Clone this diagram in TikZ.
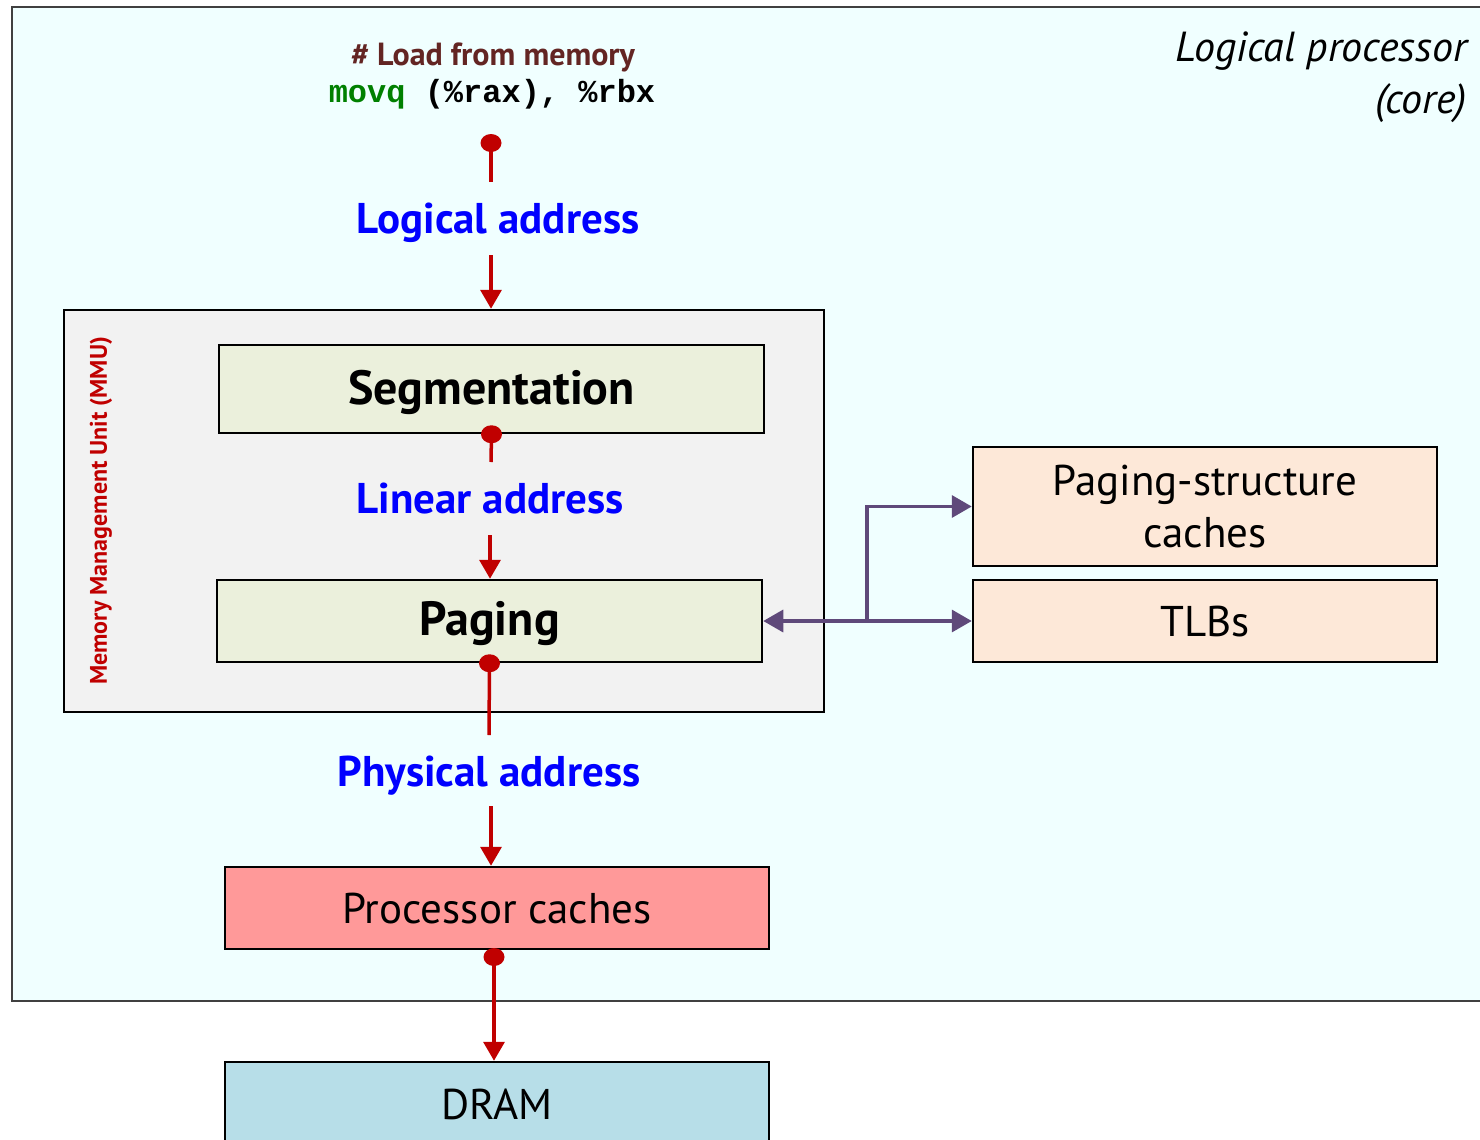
\documentclass[tikz,border=0pt]{standalone}
\usepackage{fontspec}
\setmainfont{PT Sans}
\newfontfamily\codefont{Liberation Mono}
\usetikzlibrary{arrows.meta}
\definecolor{corefill}{HTML}{F0FFFF}
\definecolor{mmufill}{HTML}{F2F2F2}
\definecolor{stagefill}{HTML}{EBF0DC}
\definecolor{cachefill}{HTML}{FDE8D8}
\definecolor{pcfill}{HTML}{FF9999}
\definecolor{dramfill}{HTML}{B7DEE8}
\definecolor{arrred}{HTML}{C00000}
\definecolor{arrpurple}{HTML}{5F497A}
\definecolor{addrblue}{HTML}{0000FF}
\definecolor{commentred}{HTML}{632523}
\definecolor{codegreen}{HTML}{008000}
\definecolor{coregray}{HTML}{404040}
\tikzset{
  boxstyle/.style={draw=black, line width=2.5pt, rectangle, inner sep=0pt},
  bigbold/.style={font=\fontsize{48}{54}\selectfont\bfseries},
  regtext/.style={font=\fontsize{43}{52}\selectfont},
  addrlabel/.style={font=\fontsize{43}{48}\selectfont\bfseries, text=addrblue, inner sep=0pt, anchor=base},
  redline/.style={draw=arrred, line width=3.5pt},
  redarrow/.style={redline, -{Triangle[length=19pt,width=21pt]}},
  purparrow/.style={draw=arrpurple, line width=3.5pt},
  reddot/.style={fill=arrred},
}
\begin{document}
\begin{tikzpicture}[x=1pt,y=-1pt]
\useasboundingbox (0,0) rectangle (1480,1140);
% core
\node[draw=coregray, line width=1.5pt, fill=corefill, minimum width=1488pt, minimum height=994pt, inner sep=0pt] (core) at (756,504) {};
\node[anchor=base east, font=\fontsize{42}{52}\selectfont\itshape, inner sep=0pt] (coretitle) at (1467,62) {Logical processor};
\node[anchor=base east, font=\fontsize{42}{52}\selectfont\itshape, inner sep=0pt] (coresub) at (1467,113) {(core)};
% code
\node[font=\fontsize{32}{36}\selectfont\bfseries, text=commentred, inner sep=0pt] (comment) at (493,57) {\# Load from memory};
\node[font=\fontsize{32}{36}\selectfont\codefont\bfseries, inner sep=0pt] (code) at (492,94) {\textcolor{codegreen}{movq} (\%rax), \%rbx};
% MMU
\node[boxstyle, fill=mmufill, minimum width=760pt, minimum height=402pt] (mmu) at (444,511) {};
\node[rotate=90, font=\fontsize{24}{28}\selectfont\bfseries, text=arrred, inner sep=0pt] (mmulabel) at (101,511) {Memory Management Unit (MMU)};
\node[boxstyle, fill=stagefill, minimum width=545pt, minimum height=88pt, bigbold, text height=35pt, text depth=4pt] (seg) at (491.5,389) {Segmentation};
\node[boxstyle, fill=stagefill, minimum width=545pt, minimum height=82pt, bigbold, text height=35pt, text depth=7pt] (pag) at (489.5,621) {Paging};
% caches
\node[boxstyle, fill=cachefill, minimum width=464pt, minimum height=119pt, regtext, align=center] (psc) at (1205,506.5) {Paging-structure\\caches};
\node[boxstyle, fill=cachefill, minimum width=464pt, minimum height=82pt, regtext, text height=31pt, text depth=0pt] (tlb) at (1205,621) {TLBs};
\node[boxstyle, fill=pcfill, minimum width=544pt, minimum height=82pt, regtext, text height=31pt, text depth=1pt] (pc) at (497,908) {Processor caches};
\node[boxstyle, fill=dramfill, minimum width=544pt, minimum height=84pt, regtext, text height=31pt, text depth=0pt] (dram) at (497,1104) {DRAM};
% address labels
\node[addrlabel] (la) at (498,233) {Logical address};
\node[addrlabel] (lin) at (490,513) {Linear address};
\node[addrlabel] (phy) at (489,786) {Physical address};
% red connectors
\coordinate (d1) at (491,143);
\coordinate (la1) at (491,182);
\coordinate (la2) at (491,255);
\draw[redline] (d1) -- (la1);
\fill[reddot] (d1) ellipse (10.5pt and 9pt);
\draw[redarrow] (la2) -- (la2 |- mmu.north);
\coordinate (d2) at (seg.south);
\coordinate (lin1) at (491,462);
\coordinate (lin2) at (490,535);
\draw[redline] (d2) -- (lin1);
\fill[reddot] (d2) ellipse (10.5pt and 9pt);
\draw[redarrow] (lin2) -- (lin2 |- pag.north);
\coordinate (d3) at (pag.south);
\coordinate (phy1) at (489,735);
\coordinate (phy2) at (491,806);
\draw[redline] (d3) -- (phy1);
\fill[reddot] (d3) ellipse (10.5pt and 9pt);
\draw[redarrow] (phy2) -- (phy2 |- pc.north);
\coordinate (d4) at (494,957);
\draw[redarrow] (d4) -- (d4 |- dram.north);
\fill[reddot] (d4) ellipse (10.5pt and 9pt);
% purple connectors
\coordinate (j) at (867,621);
\draw[purparrow, {Triangle[length=20pt,width=22pt]}-{Triangle[length=20pt,width=22pt]}] (pag.east) -- (tlb.west);
\draw[purparrow, -{Triangle[length=20pt,width=22pt]}] (j) |- (psc.west);
\end{tikzpicture}
\end{document}
